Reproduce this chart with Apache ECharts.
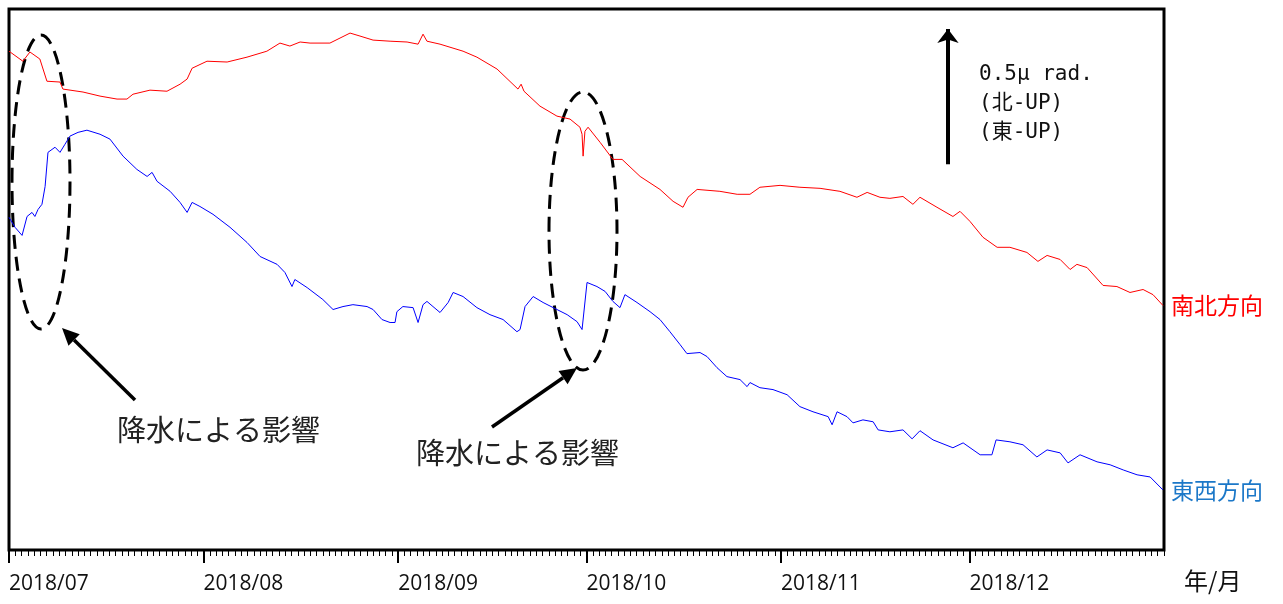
<!DOCTYPE html>
<html>
<head>
<meta charset="utf-8">
<script src="https://cdn.jsdelivr.net/npm/echarts@6/dist/echarts.min.js"></script>
<style>
  html, body { margin: 0; padding: 0; background: #fff; }
  #main { width: 1283px; height: 604px; }
</style>
</head>
<body>
<div id="main"></div>
<script>
// 南北方向 (μrad)
const nsTime = ['2018-07-01 00:00','2018-07-03 05:00','2018-07-04 08:00','2018-07-05 22:00','2018-07-07 01:00','2018-07-09 03:00','2018-07-09 14:00','2018-07-12 19:00','2018-07-15 12:00','2018-07-18 05:00','2018-07-19 19:00','2018-07-20 18:00','2018-07-23 11:00','2018-07-26 04:00','2018-07-28 06:00','2018-07-29 09:00','2018-07-30 04:00','2018-08-01 13:00','2018-08-04 18:00','2018-08-07 22:00','2018-08-11 02:00','2018-08-13 04:00','2018-08-14 18:00','2018-08-16 09:00','2018-08-17 23:00','2018-08-21 03:00','2018-08-24 08:00','2018-08-25 22:00','2018-08-28 00:00','2018-08-30 17:00','2018-09-02 10:00','2018-09-04 04:00','2018-09-04 23:00','2018-09-05 14:00','2018-09-07 16:00','2018-09-11 08:00','2018-09-13 13:00','2018-09-16 18:00','2018-09-20 02:00','2018-09-20 14:00','2018-09-21 01:00','2018-09-23 14:00','2018-09-26 07:00','2018-09-28 09:00','2018-09-29 23:00','2018-09-30 07:00','2018-09-30 11:00','2018-09-30 18:00','2018-10-01 06:00','2018-10-03 04:00','2018-10-05 05:00','2018-10-06 16:00','2018-10-09 13:00','2018-10-12 17:00','2018-10-14 19:00','2018-10-16 09:00','2018-10-17 04:00','2018-10-18 15:00','2018-10-22 06:00','2018-10-25 00:00','2018-10-27 01:00','2018-10-28 15:00','2018-10-31 20:00','2018-11-04 00:00','2018-11-07 05:00','2018-11-10 09:00','2018-11-13 02:00','2018-11-14 17:00','2018-11-16 18:00','2018-11-18 08:00','2018-11-20 10:00','2018-11-22 00:00','2018-11-23 03:00','2018-11-25 20:00','2018-11-28 09:00','2018-11-29 12:00','2018-12-01 02:00','2018-12-03 04:00','2018-12-05 10:00','2018-12-07 11:00','2018-12-10 04:00','2018-12-11 22:00','2018-12-13 09:00','2018-12-15 11:00','2018-12-17 01:00','2018-12-18 03:00','2018-12-19 18:00','2018-12-22 07:00','2018-12-24 12:00','2018-12-26 14:00','2018-12-28 16:00','2018-12-30 06:00','2018-12-31 20:00'];
const nsTilt = [1.844,1.807,1.841,1.815,1.733,1.730,1.704,1.693,1.678,1.667,1.667,1.685,1.700,1.696,1.722,1.741,1.781,1.807,1.804,1.822,1.844,1.874,1.863,1.878,1.874,1.874,1.911,1.900,1.885,1.881,1.878,1.870,1.907,1.881,1.870,1.844,1.822,1.778,1.704,1.722,1.696,1.641,1.604,1.593,1.563,1.537,1.456,1.548,1.563,1.507,1.444,1.444,1.381,1.333,1.289,1.267,1.304,1.333,1.326,1.315,1.315,1.341,1.348,1.341,1.337,1.326,1.304,1.322,1.304,1.300,1.307,1.278,1.304,1.267,1.233,1.252,1.215,1.156,1.119,1.119,1.100,1.067,1.089,1.074,1.037,1.056,1.044,0.978,0.974,0.952,0.963,0.944,0.904];

// 東西方向 (μrad)
const ewTime = ['2018-07-01 00:00','2018-07-01 23:00','2018-07-03 02:00','2018-07-03 21:00','2018-07-04 16:00','2018-07-05 03:00','2018-07-05 15:00','2018-07-06 06:00','2018-07-06 18:00','2018-07-07 05:00','2018-07-08 08:00','2018-07-09 03:00','2018-07-09 22:00','2018-07-10 17:00','2018-07-12 00:00','2018-07-13 10:00','2018-07-15 12:00','2018-07-17 02:00','2018-07-19 04:00','2018-07-21 09:00','2018-07-23 00:00','2018-07-23 19:00','2018-07-24 14:00','2018-07-26 16:00','2018-07-28 06:00','2018-07-29 09:00','2018-07-30 04:00','2018-07-31 10:00','2018-08-02 12:00','2018-08-05 05:00','2018-08-07 22:00','2018-08-10 00:00','2018-08-12 17:00','2018-08-13 23:00','2018-08-15 02:00','2018-08-15 13:00','2018-08-17 12:00','2018-08-20 00:00','2018-08-21 15:00','2018-08-23 05:00','2018-08-24 19:00','2018-08-27 01:00','2018-08-28 00:00','2018-08-29 10:00','2018-08-30 17:00','2018-08-31 12:00','2018-08-31 19:00','2018-09-01 18:00','2018-09-03 09:00','2018-09-04 04:00','2018-09-04 23:00','2018-09-05 14:00','2018-09-06 13:00','2018-09-07 16:00','2018-09-08 23:00','2018-09-09 18:00','2018-09-11 08:00','2018-09-13 13:00','2018-09-15 15:00','2018-09-17 17:00','2018-09-19 22:00','2018-09-20 10:00','2018-09-21 05:00','2018-09-22 12:00','2018-09-24 02:00','2018-09-26 07:00','2018-09-27 22:00','2018-09-29 12:00','2018-09-30 07:00','2018-10-01 02:00','2018-10-02 16:00','2018-10-03 23:00','2018-10-05 05:00','2018-10-06 08:00','2018-10-07 03:00','2018-10-09 01:00','2018-10-11 03:00','2018-10-12 17:00','2018-10-14 07:00','2018-10-15 22:00','2018-10-17 00:00','2018-10-19 02:00','2018-10-20 05:00','2018-10-21 19:00','2018-10-23 09:00','2018-10-25 11:00','2018-10-26 14:00','2018-10-27 01:00','2018-10-28 15:00','2018-10-30 17:00','2018-11-01 23:00','2018-11-04 00:00','2018-11-06 02:00','2018-11-08 12:00','2018-11-09 03:00','2018-11-09 22:00','2018-11-11 12:00','2018-11-12 11:00','2018-11-14 01:00','2018-11-15 16:00','2018-11-16 11:00','2018-11-18 08:00','2018-11-20 10:00','2018-11-21 21:00','2018-11-23 03:00','2018-11-25 05:00','2018-11-28 09:00','2018-11-30 00:00','2018-12-02 17:00','2018-12-04 14:00','2018-12-05 06:00','2018-12-07 11:00','2018-12-09 13:00','2018-12-11 18:00','2018-12-13 09:00','2018-12-15 11:00','2018-12-16 17:00','2018-12-18 15:00','2018-12-21 08:00','2018-12-23 10:00','2018-12-25 12:00','2018-12-27 17:00','2018-12-29 19:00','2018-12-31 20:00'];
const ewTilt = [1.230,1.193,1.163,1.233,1.248,1.233,1.259,1.278,1.344,1.470,1.489,1.470,1.500,1.530,1.544,1.552,1.537,1.519,1.456,1.407,1.381,1.396,1.363,1.326,1.285,1.248,1.285,1.270,1.241,1.193,1.137,1.085,1.056,1.026,0.974,1.000,0.970,0.926,0.889,0.900,0.907,0.900,0.889,0.852,0.841,0.841,0.881,0.900,0.896,0.841,0.907,0.919,0.900,0.878,0.915,0.952,0.937,0.896,0.870,0.852,0.807,0.815,0.900,0.937,0.915,0.889,0.870,0.844,0.815,0.989,0.974,0.956,0.919,0.896,0.944,0.915,0.881,0.852,0.807,0.759,0.726,0.730,0.715,0.674,0.641,0.630,0.604,0.619,0.600,0.593,0.574,0.530,0.511,0.493,0.463,0.511,0.493,0.470,0.481,0.474,0.444,0.437,0.444,0.411,0.441,0.407,0.378,0.396,0.352,0.352,0.407,0.400,0.389,0.344,0.370,0.359,0.322,0.352,0.326,0.315,0.296,0.278,0.270,0.222];

// スケール 0.5μrad
const scaleTime = '2018-11-27 14:00';
const scaleBase = 1.426;
const scaleLen = 0.5;

const zip = (t, v) => t.map((d, i) => [d, v[i]]);

// 矢印（注釈）
function arrow(x1, y1, x2, y2) {
  const a = Math.atan2(y2 - y1, x2 - x1);
  const hl = 17, hw = 8;
  const bx = x2 - hl * Math.cos(a), by = y2 - hl * Math.sin(a);
  const px = -Math.sin(a) * hw, py = Math.cos(a) * hw;
  return [
    { type: 'line', shape: { x1: x1, y1: y1, x2: bx, y2: by }, style: { stroke: '#000', lineWidth: 3.5 } },
    { type: 'polygon', shape: { points: [[x2, y2], [bx + px, by + py], [bx - px, by - py]] }, style: { fill: '#000' } }
  ];
}

let chart = echarts.init(document.getElementById('main'));
let option = {
  backgroundColor: '#fff',
  animation: false,
  grid: {
    left: 9,
    top: 9,
    width: 1155,
    height: 541,
    show: true,
    borderColor: '#000',
    borderWidth: 3
  },
  xAxis: [
    {
      type: 'time',
      min: '2018-07-01 00:00',
      max: '2019-01-01 00:00',
      minInterval: 28 * 86400000,
      axisLine: { show: false },
      axisTick: { show: true, length: 13, lineStyle: { color: '#000', width: 2 } },
      splitLine: { show: false },
      axisLabel: {
        formatter: '{yyyy}/{MM}',
        align: 'left',
        margin: 24,
        showMaxLabel: false,
        color: '#111',
        fontSize: 21,
        fontFamily: 'Open Sans'
      }
    },
    {
      // 日ごとの目盛り
      type: 'value',
      min: 0,
      max: 184,
      interval: 1,
      position: 'bottom',
      axisLine: { show: false },
      axisTick: { show: true, length: 6, lineStyle: { color: '#000', width: 1 } },
      axisLabel: { show: false },
      splitLine: { show: false }
    }
  ],
  yAxis: {
    type: 'value',
    min: 0,
    max: 2.0,
    show: false,
    splitLine: { show: false }
  },
  series: [
    {
      name: '南北方向',
      type: 'line',
      data: zip(nsTime, nsTilt),
      showSymbol: false,
      lineStyle: { color: '#ff0000', width: 1 },
      itemStyle: { color: '#ff0000' },
      endLabel: {
        show: true,
        formatter: '{a}',
        color: '#ff0000',
        fontSize: 23,
        fontFamily: 'Noto Sans CJK JP',
        distance: 8
      }
    },
    {
      name: '東西方向',
      type: 'line',
      data: zip(ewTime, ewTilt),
      showSymbol: false,
      lineStyle: { color: '#0000ff', width: 1 },
      itemStyle: { color: '#0000ff' },
      endLabel: {
        show: true,
        formatter: '{a}',
        color: '#1c78c8',
        fontSize: 23,
        fontFamily: 'Noto Sans CJK JP',
        distance: 8
      }
    },
    {
      name: 'scale',
      type: 'line',
      data: [],
      markLine: {
        silent: true,
        symbol: ['none', 'arrow'],
        symbolSize: [16, 14],
        label: { show: false },
        lineStyle: { color: '#000', width: 4, type: 'solid' },
        data: [[{ coord: [scaleTime, scaleBase] }, { coord: [scaleTime, scaleBase + scaleLen] }]]
      }
    }
  ],
  graphic: [
    { type: 'ellipse', shape: { cx: 41, cy: 182, rx: 29, ry: 147 }, style: { fill: 'none', stroke: '#000', lineWidth: 3, lineDash: [14, 8] } },
    { type: 'ellipse', shape: { cx: 583, cy: 231, rx: 34, ry: 139 }, style: { fill: 'none', stroke: '#000', lineWidth: 3, lineDash: [14, 8] } },
    ...arrow(135, 400, 62, 328),
    ...arrow(492, 427, 577, 368),
    { type: 'text', left: 117, top: 415, style: { text: '降水による影響', font: '29px "Noto Sans CJK JP"', fill: '#222' } },
    { type: 'text', left: 416, top: 438, style: { text: '降水による影響', font: '29px "Noto Sans CJK JP"', fill: '#222' } },
    { type: 'text', left: 979, top: 60, style: { text: '0.5μ rad.\n(北-UP)\n(東-UP)', font: '21px "DejaVu Sans Mono", "Noto Sans CJK JP"', lineHeight: 29, fill: '#111' } },
    { type: 'text', left: 1184, top: 569, style: { text: '年/月', font: '24px "Noto Sans CJK JP"', fill: '#111' } }
  ]
};
chart.setOption(option);
</script>
</body>
</html>
